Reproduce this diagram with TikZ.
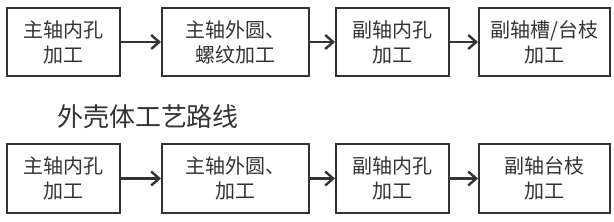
\documentclass[tikz,border=0pt]{standalone}
\usepackage{fontspec}
\setmainfont{Noto Sans CJK SC}
\usetikzlibrary{arrows.meta,positioning}
\definecolor{ink}{HTML}{333333}

\begin{document}
\begin{tikzpicture}[x=1pt,y=-1pt,
  stepbox/.style={draw=ink,line width=2pt,minimum height=68pt,align=center,
    text=ink,font=\fontsize{20pt}{25pt}\selectfont,inner sep=0pt},
  flow/.style={ink,line width=2.4pt,-{Straight Barb[length=8pt,width=14pt,line width=2.4pt]}}]
  \useasboundingbox (0,0) rectangle (614,222);
  % upper route
  \node[stepbox,minimum width=113pt] (a1) at (63.5,42) {主轴内孔\\加工};
  \node[stepbox,minimum width=147pt] (a2) at (235.5,42) {主轴外圆、\\螺纹加工};
  \node[stepbox,minimum width=113pt] (a3) at (392.5,42) {副轴内孔\\加工};
  \node[stepbox,minimum width=131pt] (a4) at (544.5,42) {副轴槽/台枝\\加工};
  \node[text=ink,font=\fontsize{26pt}{30pt}\selectfont] (title) at (148,117) {外壳体工艺路线};
  % lower route
  \node[stepbox,minimum width=113pt] (b1) at (63.5,178.5) {主轴内孔\\加工};
  \node[stepbox,minimum width=147pt] (b2) at (235.5,178.5) {主轴外圆、\\加工};
  \node[stepbox,minimum width=113pt] (b3) at (392.5,178.5) {副轴内孔\\加工};
  \node[stepbox,minimum width=131pt] (b4) at (544.5,178.5) {副轴台枝\\加工};
  \foreach \r in {a,b} {
    \draw[flow] (\r1) -- (\r2);
    \draw[flow] (\r2) -- (\r3);
    \draw[flow] (\r3) -- (\r4);
  }
\end{tikzpicture}
\end{document}
